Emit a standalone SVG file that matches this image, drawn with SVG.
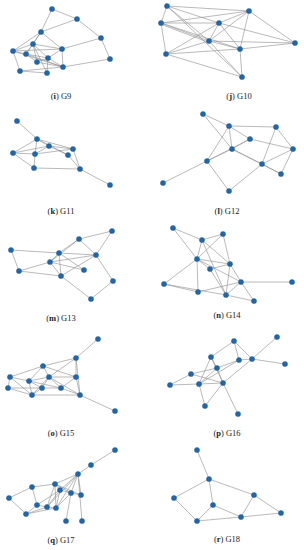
<svg xmlns="http://www.w3.org/2000/svg" width="304" height="550" viewBox="0 0 304 550">
<style>
.e{fill:none;stroke:#8c8c8c;stroke-width:0.6}
.v{fill:#2166a8;stroke:#1a5a96;stroke-width:0.4}
.t{font-family:"Liberation Serif",serif;font-size:8.5px;fill:#222;text-anchor:middle}
.b{font-weight:bold}
</style>
<rect width="304" height="550" fill="#fff"/>
<g id="connectors">
<path class="e" d="M52 9L77 19M52 9L41 32M77 19L41 32M77 19L101 38M101 38L110 59M41 32L13 51M41 32L62 49M41 32L33 44M41 32L26 54M101 38L62 49M63 67L110 59M33 44L13 51M33 44L26 54M33 44L62 49M33 44L48 58M33 44L47 73M13 51L26 54M13 51L20 71M13 51L62 49M26 54L37 62M26 54L63 67M26 54L48 58M37 62L48 58M37 62L63 67M20 71L47 73M20 71L63 67M48 58L47 73M48 58L62 49M62 49L63 67M37 62L33 44M48 58L63 67M13 51L63 67"/>
<path class="e" d="M167 6L249 11M167 6L161 23M167 6L219 23M167 6L209 41M167 6L242 77M161 23L249 11M161 23L219 23M161 23L209 41M161.5 24.5L209 42.5M161 23L166 54M161 23L240 49M249 11L219 23M249 11L209 41M249 11L240 49M249 11L295 43M219 23L209 41M219 23L295 43M219 23L240 49M209 41L166 54M209 41L240 49M209 41L295 43M209 41L242 77M240 49L242 77M240 49L295 43M166 54L242 77M166 54L240 49M166 54L219 23"/>
<path class="e" d="M17 121L37 139M37 139L49 146M37 139L73 149M37 139L13 153M37 139L35 154M37 139L68 155M49 146L73 149M49 146L13 153M49 146L35 154M49 146L68 155M73 149L80 169M13 153L35 154M13 153L34 168M35 154L34 168M35 154L73 149M34 168L80 169M68 155L80 169M80 169L110 185"/>
<path class="e" d="M203 114L229 126M203 114L232 149M229 126L276 127M229 126L250 139M229 126L232 149M229 126L207 161M250 139L232 149M250 139L293 149M276 127L293 149M276 127L262 164M232 149L207 161M232 149L262 164M207 161L163 183M207 161L229 191M207 161L250 139M262 164L229 191M262 164L281 174M293 149L281 174M293 149L262 164M232 149L281 174"/>
<path class="e" d="M11 250L59 253M11 250L19 271M79 239L112 231M79 239L59 253M79 239L96 255M112 231L96 255M59 253L96 255M59 253L50 262M59 253L61 276M59 253L84 270M50 262L96 255M96 255L61 276M96 255L113 281M50 262L19 271M50 262L61 276M50 262L84 270M50 262L79 239M19 271L61 276M61 276L91 299M113 281L91 299"/>
<path class="e" d="M173 228L202 240M173 228L197 259M202 240L223 234M202 240L230 264M202 240L226 295M223 234L197 259M223 234L230 264M197 259L230 264M197 259L210 269M197 259L164 284M197 259L198 292M197 259L241 282M230 264L210 269M230 264L226 295M210 269L226 295M164 284L198 292M164 284L226 295M241 282L292 282M241 282L198 292M241 282L226 295M241 282L254 301M226 295L254 301M230 264L241 282M202 240L197 259"/>
<path class="e" d="M98 339L76 358M76 358L43 366M76 358L49 377M76 358L76 377M76 358L80 395M43 366L10 377M43 366L29 381M43 366L49 377M43 366L76 377M10 377L29 381M10 377L8 388M10 377L32 395M49 377L29 381M49 377L42 388M49 377L61 388M49 377L76 377M49 377L80 395M49 377L32 395M76 377L61 388M76 377L80 395M29 381L42 388M29 381L32 395M29 381L61 388M42 388L32 395M42 388L61 388M61 388L80 395M8 388L32 395M8 388L42 388M32 395L80 395M80 395L115 411"/>
<path class="e" d="M234 341L211 357M234 341L239 360M234 341L252 359M277 337L252 359M252 359L285 364M239 360L252 359M239 360L217 368M211 357L217 368M211 357L199 384M211 357L223 383M217 368L191 374M217 368L199 384M217 368L223 383M191 374L170 385M191 374L223 383M170 385L199 384M199 384L223 383M199 384L205 406M223 383L205 406M223 383L252 359M223 383L238 414M199 384L239 360"/>
<path class="e" d="M115 450L91 465M91 465L78 474M78 474L55 484M78 474L60 490M78 474L71 493M78 474L81 495M78 474L56 508M78 474L82 521M78 474L47 507M32 487L55 484M32 487L37 505M32 487L9 498M55 484L60 490M55 484L47 507M55 484L56 508M55 484L71 493M60 490L71 493M60 490L47 507M60 490L56 508M71 493L81 495M71 493L66 521M71 493L56 508M9 498L26 514M37 505L26 514M37 505L47 507M47 507L26 514M56 508L26 514M47 507L56 508M55 484L81 495M60 490L37 505"/>
<path class="e" d="M197 450L209 479M209 479L174 498M209 479L254 495M209 479L213 505M174 498L197 521M254 495L241 517M254 495L281 513M213 505L197 521M213 505L241 517M197 521L241 517M241 517L281 513"/>
</g>
<g id="G9">
<circle class="v" cx="52" cy="9" r="2.6"/><circle class="v" cx="77" cy="19" r="2.6"/><circle class="v" cx="41" cy="32" r="2.6"/><circle class="v" cx="101" cy="38" r="2.6"/><circle class="v" cx="33" cy="44" r="2.6"/><circle class="v" cx="62" cy="49" r="2.6"/><circle class="v" cx="13" cy="51" r="2.6"/><circle class="v" cx="26" cy="54" r="2.6"/><circle class="v" cx="48" cy="58" r="2.6"/><circle class="v" cx="37" cy="62" r="2.6"/><circle class="v" cx="110" cy="59" r="2.6"/><circle class="v" cx="63" cy="67" r="2.6"/><circle class="v" cx="20" cy="71" r="2.6"/><circle class="v" cx="47" cy="73" r="2.6"/>
<text class="t" x="61" y="99">(<tspan class="b">i</tspan>) G9</text>
</g>
<g id="G10">
<circle class="v" cx="167" cy="6" r="2.6"/><circle class="v" cx="249" cy="11" r="2.6"/><circle class="v" cx="161" cy="23" r="2.6"/><circle class="v" cx="219" cy="23" r="2.6"/><circle class="v" cx="209" cy="41" r="2.6"/><circle class="v" cx="295" cy="43" r="2.6"/><circle class="v" cx="240" cy="49" r="2.6"/><circle class="v" cx="166" cy="54" r="2.6"/><circle class="v" cx="242" cy="77" r="2.6"/>
<text class="t" x="239" y="99">(<tspan class="b">j</tspan>) G10</text>
</g>
<g id="G11">
<circle class="v" cx="17" cy="121" r="2.6"/><circle class="v" cx="37" cy="139" r="2.6"/><circle class="v" cx="49" cy="146" r="2.6"/><circle class="v" cx="73" cy="149" r="2.6"/><circle class="v" cx="13" cy="153" r="2.6"/><circle class="v" cx="35" cy="154" r="2.6"/><circle class="v" cx="68" cy="155" r="2.6"/><circle class="v" cx="34" cy="168" r="2.6"/><circle class="v" cx="80" cy="169" r="2.6"/><circle class="v" cx="110" cy="185" r="2.6"/>
<text class="t" x="61" y="214">(<tspan class="b">k</tspan>) G11</text>
</g>
<g id="G12">
<circle class="v" cx="203" cy="114" r="2.6"/><circle class="v" cx="229" cy="126" r="2.6"/><circle class="v" cx="276" cy="127" r="2.6"/><circle class="v" cx="250" cy="139" r="2.6"/><circle class="v" cx="232" cy="149" r="2.6"/><circle class="v" cx="293" cy="149" r="2.6"/><circle class="v" cx="207" cy="161" r="2.6"/><circle class="v" cx="262" cy="164" r="2.6"/><circle class="v" cx="281" cy="174" r="2.6"/><circle class="v" cx="163" cy="183" r="2.6"/><circle class="v" cx="229" cy="191" r="2.6"/>
<text class="t" x="227" y="214">(<tspan class="b">l</tspan>) G12</text>
</g>
<g id="G13">
<circle class="v" cx="11" cy="250" r="2.6"/><circle class="v" cx="79" cy="239" r="2.6"/><circle class="v" cx="112" cy="231" r="2.6"/><circle class="v" cx="59" cy="253" r="2.6"/><circle class="v" cx="96" cy="255" r="2.6"/><circle class="v" cx="50" cy="262" r="2.6"/><circle class="v" cx="19" cy="271" r="2.6"/><circle class="v" cx="84" cy="270" r="2.6"/><circle class="v" cx="61" cy="276" r="2.6"/><circle class="v" cx="113" cy="281" r="2.6"/><circle class="v" cx="91" cy="299" r="2.6"/>
<text class="t" x="61" y="321">(<tspan class="b">m</tspan>) G13</text>
</g>
<g id="G14">
<circle class="v" cx="173" cy="228" r="2.6"/><circle class="v" cx="202" cy="240" r="2.6"/><circle class="v" cx="223" cy="234" r="2.6"/><circle class="v" cx="197" cy="259" r="2.6"/><circle class="v" cx="230" cy="264" r="2.6"/><circle class="v" cx="210" cy="269" r="2.6"/><circle class="v" cx="164" cy="284" r="2.6"/><circle class="v" cx="241" cy="282" r="2.6"/><circle class="v" cx="292" cy="282" r="2.6"/><circle class="v" cx="198" cy="292" r="2.6"/><circle class="v" cx="226" cy="295" r="2.6"/><circle class="v" cx="254" cy="301" r="2.6"/>
<text class="t" x="227" y="318">(<tspan class="b">n</tspan>) G14</text>
</g>
<g id="G15">
<circle class="v" cx="98" cy="339" r="2.6"/><circle class="v" cx="76" cy="358" r="2.6"/><circle class="v" cx="43" cy="366" r="2.6"/><circle class="v" cx="10" cy="377" r="2.6"/><circle class="v" cx="49" cy="377" r="2.6"/><circle class="v" cx="76" cy="377" r="2.6"/><circle class="v" cx="29" cy="381" r="2.6"/><circle class="v" cx="42" cy="388" r="2.6"/><circle class="v" cx="61" cy="388" r="2.6"/><circle class="v" cx="8" cy="388" r="2.6"/><circle class="v" cx="32" cy="395" r="2.6"/><circle class="v" cx="80" cy="395" r="2.6"/><circle class="v" cx="115" cy="411" r="2.6"/>
<text class="t" x="61" y="436">(<tspan class="b">o</tspan>) G15</text>
</g>
<g id="G16">
<circle class="v" cx="234" cy="341" r="2.6"/><circle class="v" cx="277" cy="337" r="2.6"/><circle class="v" cx="211" cy="357" r="2.6"/><circle class="v" cx="239" cy="360" r="2.6"/><circle class="v" cx="252" cy="359" r="2.6"/><circle class="v" cx="285" cy="364" r="2.6"/><circle class="v" cx="217" cy="368" r="2.6"/><circle class="v" cx="191" cy="374" r="2.6"/><circle class="v" cx="170" cy="385" r="2.6"/><circle class="v" cx="199" cy="384" r="2.6"/><circle class="v" cx="223" cy="383" r="2.6"/><circle class="v" cx="205" cy="406" r="2.6"/><circle class="v" cx="238" cy="414" r="2.6"/>
<text class="t" x="227" y="436">(<tspan class="b">p</tspan>) G16</text>
</g>
<g id="G17">
<circle class="v" cx="115" cy="450" r="2.6"/><circle class="v" cx="91" cy="465" r="2.6"/><circle class="v" cx="78" cy="474" r="2.6"/><circle class="v" cx="32" cy="487" r="2.6"/><circle class="v" cx="55" cy="484" r="2.6"/><circle class="v" cx="60" cy="490" r="2.6"/><circle class="v" cx="71" cy="493" r="2.6"/><circle class="v" cx="81" cy="495" r="2.6"/><circle class="v" cx="9" cy="498" r="2.6"/><circle class="v" cx="37" cy="505" r="2.6"/><circle class="v" cx="47" cy="507" r="2.6"/><circle class="v" cx="56" cy="508" r="2.6"/><circle class="v" cx="26" cy="514" r="2.6"/><circle class="v" cx="66" cy="521" r="2.6"/><circle class="v" cx="82" cy="521" r="2.6"/>
<text class="t" x="61" y="543">(<tspan class="b">q</tspan>) G17</text>
</g>
<g id="G18">
<circle class="v" cx="197" cy="450" r="2.6"/><circle class="v" cx="209" cy="479" r="2.6"/><circle class="v" cx="174" cy="498" r="2.6"/><circle class="v" cx="254" cy="495" r="2.6"/><circle class="v" cx="213" cy="505" r="2.6"/><circle class="v" cx="281" cy="513" r="2.6"/><circle class="v" cx="197" cy="521" r="2.6"/><circle class="v" cx="241" cy="517" r="2.6"/>
<text class="t" x="227" y="542">(<tspan class="b">r</tspan>) G18</text>
</g>
</svg>
